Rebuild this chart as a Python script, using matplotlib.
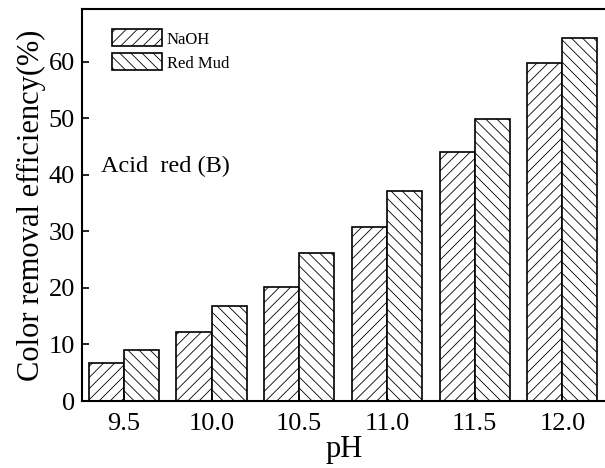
import numpy as np
import matplotlib
matplotlib.use('Agg')
import matplotlib.pyplot as plt

ph_labels = ['9.5', '10.0', '10.5', '11.0', '11.5', '12.0']
naoh = [6.8, 12.2, 20.2, 30.8, 44.0, 59.8]
red_mud = [9.0, 16.8, 26.1, 37.1, 49.9, 64.2]

plt.rcParams['font.family'] = 'Liberation Serif'
plt.rcParams['hatch.linewidth'] = 0.6
plt.rcParams['hatch.color'] = '#666666'

fig = plt.figure(figsize=(6.05, 4.68), dpi=100)
ax = fig.add_axes([81.7 / 605, 67 / 468, (606.2 - 81.7) / 605, (401 - 9) / 468])

x = np.arange(len(ph_labels))
w = 0.4
ax.bar(x - w / 2, naoh, w, color='white', edgecolor='black', linewidth=1.2,
       hatch='///', label='NaOH')
ax.bar(x + w / 2, red_mud, w, color='white', edgecolor='black', linewidth=1.2,
       hatch='\\\\\\', label='Red Mud')

ax.set_xlim(-0.48, 5.5)
ax.set_ylim(0, 69.3)
ax.set_xticks(x)
ax.set_xticklabels(ph_labels)
ax.set_yticks(np.arange(0, 61, 10))
ax.tick_params(axis='both', direction='in', length=5, width=1.2, labelsize=19, pad=5)
ax.tick_params(axis='x', pad=9)
for s in ax.spines.values():
    s.set_linewidth(1.5)
ax.spines['right'].set_visible(False)

ax.set_xlabel('pH', fontsize=22, labelpad=0)
ax.set_ylabel('Color removal efficiency(%)', fontsize=22, labelpad=2)
ax.text(0.037, 0.585, 'Acid  red (B)', transform=ax.transAxes, fontsize=17.5)

ax.legend(loc='upper left', bbox_to_anchor=(0.045, 0.965), frameon=False, fontsize=12,
          handlelength=3.0, handleheight=1.2, handletextpad=0.3, labelspacing=0.35,
          borderaxespad=0)

fig.savefig('out.png', dpi=100)
